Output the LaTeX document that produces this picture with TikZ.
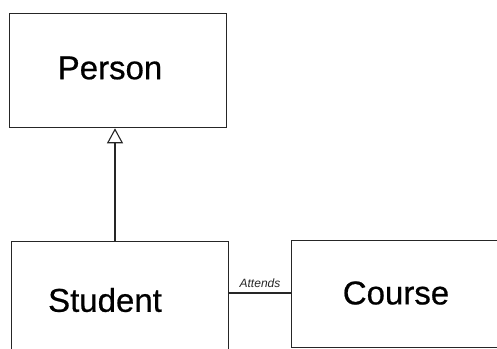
\documentclass[tikz,border=0pt]{standalone}
\usepackage{fontspec}
\setmainfont{Liberation Sans}
\newfontfamily\heavysans[FakeBold=0.6]{Liberation Sans}
\usetikzlibrary{arrows.meta,calc}
\begin{document}
\begin{tikzpicture}[x=1pt,y=-1pt,
  classbox/.style={draw=black!85, line width=1.3pt, fill=white, inner sep=0pt, anchor=north west},
  classname/.style={font=\heavysans\fontsize{33}{36}\selectfont, inner sep=0pt, text=black},
  assoclabel/.style={font=\fontsize{12}{14}\selectfont\itshape, inner sep=0pt, text=black!85},
  link/.style={draw=black!85, line width=1.3pt}]
  \clip (0,0) rectangle (497,348);
  \fill[white] (0,0) rectangle (497,348);
  % class boxes
  \node[classbox, minimum width=217pt, minimum height=114pt] (person) at (9,13) {};
  \node[classbox, minimum width=217pt, minimum height=130pt] (student) at (11,241) {};
  \node[classbox, minimum width=230pt, minimum height=107pt] (course) at (291,240) {};
  % class names
  \node[classname] (personname) at (110,68) {Person};
  \node[classname] (studentname) at (105,300) {Student};
  \node[classname] (coursename) at (396,293) {Course};
  % generalisation
  \coordinate (gx) at (115,0);
  \draw[link, -{Triangle[open, length=15pt, width=16pt, line width=1.1pt]}]
    (student.north -| gx) -- (person.south -| gx);
  % association
  \coordinate (ay) at (0,293);
  \draw[link] (student.east |- ay) -- (course.west |- ay);
  \node[assoclabel] (attends) at (260,283) {Attends};
\end{tikzpicture}
\end{document}
